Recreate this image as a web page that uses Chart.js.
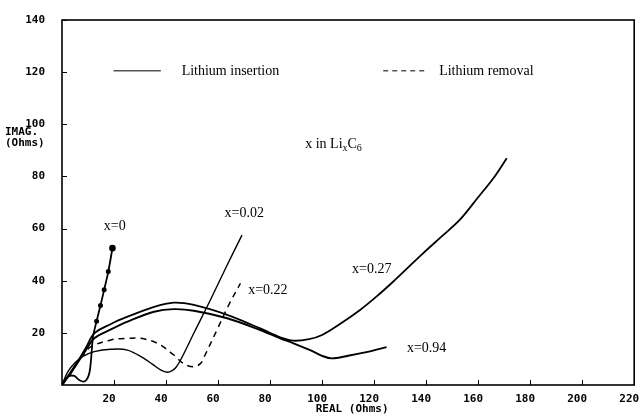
<!DOCTYPE html>
<html>
<head>
<meta charset="utf-8">
<script src="https://cdn.jsdelivr.net/npm/chart.js@4"></script>
<style>
  html, body { margin: 0; padding: 0; background: #fff; }
</style>
</head>
<body>
<canvas id="chart" width="640" height="416"></canvas>
<script>
// tick values
const xTicks = [20, 40, 60, 80, 100, 120, 140, 160, 180, 200, 220];
const yTicks = [20, 40, 60, 80, 100, 120, 140];

// curves, [REAL, IMAG] in ohms
const curveX0 = [[0, 0.5], [2.2, 3.2], [4.7, 3.5], [6.6, 1.9], [8.5, 1.3], [9.8, 2.6], [10.6, 5],
  [11.1, 9], [11.5, 14], [11.9, 18.5], [13.3, 24.5], [14.8, 30.5], [16.2, 36.5], [17.8, 43.5], [19.4, 52.5]];
const curveX002 = [[0, 0], [2.2, 5], [5, 8.5], [8, 11], [12.4, 12.8], [18.8, 13.7], [25.2, 13.4],
  [31.5, 10.2], [35, 7.8], [37.9, 5.8], [40.5, 4.9], [42.5, 5.6], [43.7, 6.6], [45.6, 9.6],
  [51, 20.5], [57, 32.5], [63, 45], [69.2, 57.5]];
const curveX022 = [[0, 0], [3, 4], [6, 8.5], [9, 12.5], [11.1, 14.7], [18.8, 17.3], [25.2, 17.9],
  [30.3, 17.9], [36.7, 16], [43, 11.5], [46.9, 8.1], [50.7, 7], [53.3, 8.3], [55, 11.5],
  [60, 22], [64, 30.5], [68.6, 39]];
const curveX027 = [[0, 0], [3, 4.5], [6, 9], [9.3, 14.5], [12.4, 19.8], [18.8, 23.4], [25.2, 26.2],
  [35.4, 30], [43, 31.6], [50.7, 30.7], [63.5, 26.9], [76.2, 21.7], [83.9, 18.3], [89, 17],
  [95, 17.6], [100, 19.2], [107, 23.5], [114.6, 28.8], [121, 34], [127.3, 39.6], [133, 45],
  [138.8, 50.5], [146, 57], [152.9, 63.3], [160, 72], [166, 79.5], [171, 87]];
const curveX094 = [[0, 0], [3, 4], [6, 8.5], [9.3, 13.5], [12.4, 17.9], [18.8, 21.3], [25.2, 24.3],
  [35.4, 28.1], [43, 29.1], [50.7, 28.5], [63.5, 25.6], [76.2, 21.1], [83.9, 17.9], [89, 16],
  [95.4, 13.4], [100, 11.2], [103.7, 10.2], [110, 11.2], [117, 12.6], [124.8, 14.5]];

const legendLabels = ['Lithium insertion', 'Lithium removal'];
const curveLabels = ['x=0', 'x=0.02', 'x=0.22', 'x=0.27', 'x=0.94'];

const toXY = arr => arr.map(p => ({ x: p[0], y: p[1] }));
const tickFont = 'bold 11px "DejaVu Sans Mono"';
const serif = '"Liberation Serif", "Times New Roman", serif';

const framePlugin = {
  id: 'frame',
  afterDraw(chart) {
    const { ctx, chartArea: a, scales } = chart;
    const sx = scales.x, sy = scales.y;
    ctx.save();
    ctx.strokeStyle = '#000';
    ctx.lineWidth = 1.6;
    ctx.strokeRect(a.left, a.top, a.right - a.left, a.bottom - a.top);

    // inward tick marks
    ctx.lineWidth = 1;
    xTicks.forEach(v => {
      const px = Math.round(sx.getPixelForValue(v)) + 0.5;
      ctx.beginPath(); ctx.moveTo(px, a.bottom); ctx.lineTo(px, a.bottom - 5); ctx.stroke();
    });
    yTicks.forEach(v => {
      const py = Math.round(sy.getPixelForValue(v)) + 0.5;
      ctx.beginPath(); ctx.moveTo(a.left, py); ctx.lineTo(a.left + 5, py); ctx.stroke();
    });

    // axis titles
    ctx.fillStyle = '#000';
    ctx.font = tickFont;
    ctx.textBaseline = 'middle';
    ctx.textAlign = 'center';
    ctx.fillText('REAL (Ohms)', (a.left + a.right) / 2 + 4, 409);
    ctx.textAlign = 'left';
    ctx.fillText('IMAG.', 5, 132);
    ctx.fillText('(Ohms)', 5, 143);

    // legend
    const ly = sy.getPixelForValue(120.5);
    ctx.beginPath();
    ctx.moveTo(sx.getPixelForValue(19.8), ly); ctx.lineTo(sx.getPixelForValue(38), ly);
    ctx.stroke();
    ctx.setLineDash([5, 4]);
    ctx.beginPath();
    ctx.moveTo(sx.getPixelForValue(123.5), ly); ctx.lineTo(sx.getPixelForValue(140), ly);
    ctx.stroke();
    ctx.setLineDash([]);
    ctx.font = '14px ' + serif;
    ctx.fillText(legendLabels[0], sx.getPixelForValue(46), ly);
    ctx.fillText(legendLabels[1], sx.getPixelForValue(145), ly);

    // curve labels
    const spots = [[16.1, 60.8], [62.5, 66], [71.6, 36.5], [111.5, 44.2], [132.6, 14.2]];
    curveLabels.forEach((t, i) => {
      ctx.fillText(t, sx.getPixelForValue(spots[i][0]), sy.getPixelForValue(spots[i][1]));
    });

    // x in LixC6
    let tx = sx.getPixelForValue(93.5);
    const ty = sy.getPixelForValue(92.3);
    const parts = [['x in Li', 0], ['x', 1], ['C', 0], ['6', 1]];
    parts.forEach(([s, sub]) => {
      ctx.font = (sub ? '10px ' : '14px ') + serif;
      ctx.fillText(s, tx, ty + (sub ? 4 : 0));
      tx += ctx.measureText(s).width;
    });
    ctx.restore();
  }
};

const line = (data, width, extra) => Object.assign({
  data: toXY(data), showLine: true, borderColor: '#000', backgroundColor: '#000',
  borderWidth: width, pointRadius: 0, tension: 0.35, fill: false
}, extra || {});

new Chart(document.getElementById('chart'), {
  type: 'scatter',
  data: {
    datasets: [
      line(curveX0, 1.8, { pointRadius: ctx => (ctx.dataIndex === 14 ? 2.4 : ctx.dataIndex >= 10 ? 1.6 : 0), tension: 0.3 }),
      line(curveX002, 1.4),
      line(curveX022, 1.5, { borderDash: [6, 5] }),
      line(curveX027, 1.8),
      line(curveX094, 1.9)
    ]
  },
  plugins: [framePlugin],
  options: {
    responsive: false,
    animation: false,
    layout: { padding: { top: 20, right: 5, left: 0, bottom: 0 } },
    plugins: { legend: { display: false }, tooltip: { enabled: false } },
    scales: {
      x: {
        type: 'linear', min: 0, max: 220,
        afterFit: s => { s.height = 31; s.paddingLeft = 0; s.paddingRight = 0; },
        grid: { display: false },
        border: { display: false },
        ticks: {
          stepSize: 20, autoSkip: false, maxRotation: 0, padding: 0, labelOffset: -5,
          color: '#000', font: { family: 'DejaVu Sans Mono', size: 11, weight: 'bold' },
          callback: v => (v === 0 ? '' : v)
        }
      },
      y: {
        type: 'linear', min: 0, max: 140,
        afterFit: s => { s.width = 62; },
        grid: { display: false },
        border: { display: false },
        ticks: {
          stepSize: 20, padding: 9,
          color: '#000', font: { family: 'DejaVu Sans Mono', size: 11, weight: 'bold' },
          callback: v => (v === 0 ? '' : v)
        }
      }
    }
  }
});
</script>
</body>
</html>
